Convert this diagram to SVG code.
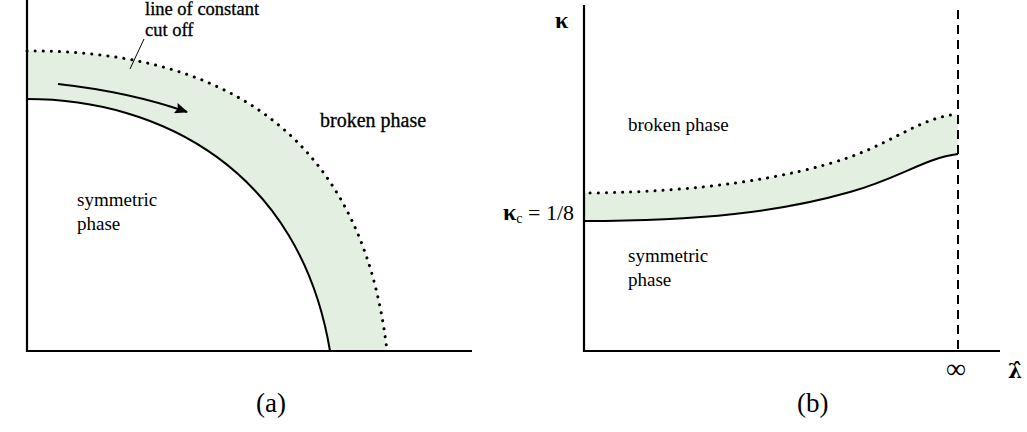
<svg xmlns="http://www.w3.org/2000/svg" width="1027" height="432" viewBox="0 0 1027 432">
<defs>
<style>
.ax{stroke:#000;stroke-width:2.2;fill:none}
.sol{stroke:#000;stroke-width:2;fill:none}
.dot{stroke:#000;stroke-width:3;fill:none;stroke-dasharray:0.1 8;stroke-linecap:round}
.band{fill:#e3efe0;stroke:none}
.t{font-family:"Liberation Serif",serif;font-size:19px;fill:#000}
.ta{font-family:"Liberation Serif",serif;font-size:20px;fill:#000;stroke:#000;stroke-width:0.3}
.cap{font-family:"Liberation Serif",serif;font-size:27px;fill:#000}
</style>
<marker id="ah2" viewBox="0 0 12 10" refX="11" refY="5" markerWidth="13" markerHeight="11" orient="auto" markerUnits="userSpaceOnUse">
<path d="M0,0 L12,5 L0,10 L2,5 Z" fill="#000"/>
</marker>
</defs>

<g id="panel-a">
<path class="band" d="M27,99 C160,99 300,170 330,351 L387,351 C360,115 200,50 27,51 Z"/>
<path class="sol" d="M27,99 C160,99 300,170 330,351"/>
<path class="dot" d="M27,51 C200,50 360,115 387,351"/>
<path class="ax" d="M27,0 L27,351 L472,351"/>
<path d="M58,84 Q130,92 187,112" stroke="#000" stroke-width="2.2" fill="none" marker-end="url(#ah2)"/>
<line x1="144" y1="39" x2="130" y2="69" stroke="#000" stroke-width="1"/>
<text class="ta" x="145" y="15" font-size="18" style="font-size:18.5px">line of constant<tspan x="145" dy="20.5">cut off</tspan></text>
<text class="ta" x="320" y="127">broken phase</text>
<text class="t" x="77" y="206">symmetric</text>
<text class="t" x="77" y="230">phase</text>
<text class="cap" x="256" y="412">(a)</text>
</g>

<g id="panel-b">
<path class="band" d="M584,221 C700,221 780,212 850,192 C900,178 925,158 958,154 L958,114 C920,118 895,141 850,157 C790,178 700,192 584,193 Z"/>
<path class="sol" d="M584,221 C700,221 780,212 850,192 C900,178 925,158 958,154"/>
<path class="dot" d="M590,193 C700,192 790,178 850,157 C895,141 920,118 958,114"/>
<path class="ax" d="M584,5 L584,351 L1000,351"/>
<line x1="958" y1="10" x2="958" y2="351" stroke="#000" stroke-width="2" stroke-dasharray="9 6"/>
<text class="t" x="628" y="131">broken phase</text>
<text class="t" x="628" y="262">symmetric</text>
<text class="t" x="628" y="286">phase</text>
<text x="555" y="28" font-family="Liberation Serif,serif" font-size="24" font-weight="bold">κ</text>
<text x="503" y="220" font-family="Liberation Serif,serif" font-size="22"><tspan font-weight="bold" font-size="24">κ</tspan><tspan font-size="14" dy="3">c</tspan><tspan dy="-3"> = 1/8</tspan></text>
<text x="946" y="378" font-family="Liberation Serif,serif" font-size="28">∞</text>
<text x="1008" y="378" font-family="DejaVu Serif,serif" font-size="20" font-weight="bold">λ̂</text>
<text class="cap" x="797" y="412">(b)</text>
</g>
</svg>
